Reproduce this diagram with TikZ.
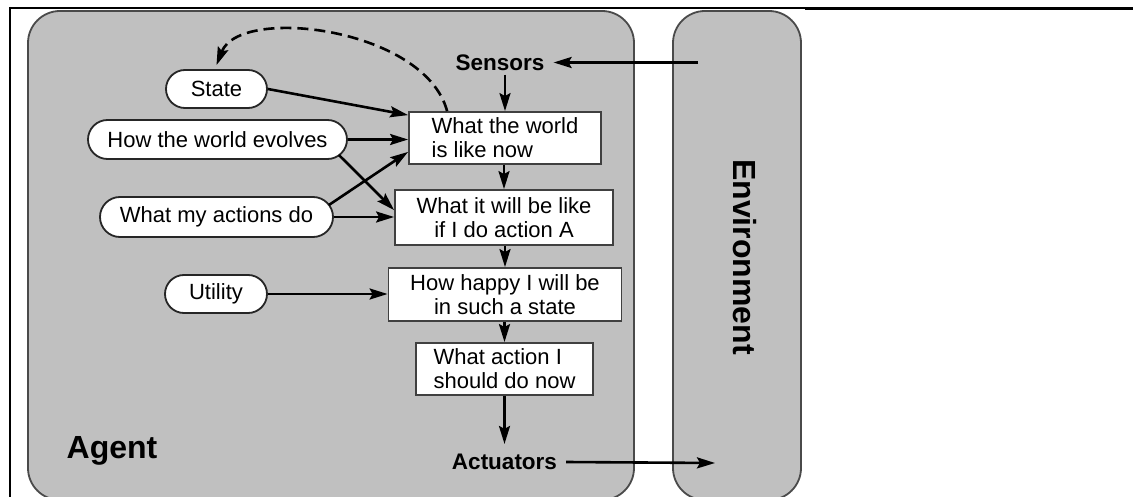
\documentclass[tikz,border=0pt]{standalone}
\usepackage{fontspec}
\setmainfont{Liberation Sans}
\usetikzlibrary{arrows.meta,shapes.misc,calc}
\definecolor{panelgray}{HTML}{C0C0C0}
\definecolor{edgegray}{HTML}{4A4A4A}
\tikzset{
  panel/.style={draw=edgegray, line width=1.8pt, fill=panelgray, rounded corners=32pt},
  pill/.style={shape=rounded rectangle, draw=black!85, line width=1.8pt, fill=white,
    inner sep=0pt, font=\fontsize{22}{24}\selectfont},
  procbox/.style={draw=black!75, line width=1.8pt, fill=white, inner sep=0pt,
    font=\fontsize{22}{24}\selectfont},
  lbl/.style={font=\bfseries\fontsize{22.5}{24}\selectfont, inner xsep=9pt, inner ysep=4pt},
  biglbl/.style={font=\bfseries\fontsize{32}{36}\selectfont, inner sep=0pt},
  arr/.style={line width=2.6pt, -{Stealth[length=18pt,width=11pt,inset=3pt]}},
  dasharr/.style={arr, dash pattern=on 11pt off 6pt},
}
\begin{document}
\begin{tikzpicture}[x=1pt,y=-1pt]
\useasboundingbox (0,0) rectangle (1133,497);
\begin{scope}
\clip (0,0) rectangle (1133,497);
% frame
\draw[line width=1.5pt] (9,8) -- (1133,8);
\draw[line width=3pt] (805,8.5) -- (1133,8.5);
\draw[line width=2.6pt] (10,7) -- (10,497);
% panels
\path[panel] (28,11) rectangle (634,500);
\path[panel] (673,11) rectangle (801,500);

% left ovals
\node[pill, minimum width=101pt, minimum height=38pt] (state) at (216.5,89) {State};
\node[pill, minimum width=259pt, minimum height=39pt] (evolves) at (217.5,139.5) {How the world evolves};
\node[pill, minimum width=233pt, minimum height=40pt] (actions) at (216.5,217) {What my actions do};
\node[pill, minimum width=102pt, minimum height=38pt] (utility) at (216,294) {Utility};

% column of boxes
\node[lbl] (sensors) at (500,62.5) {Sensors};
\node[procbox, minimum width=192pt, minimum height=52pt, align=left] (b1) at (505,138) {What the world\\is like now};
\node[procbox, minimum width=218pt, minimum height=55pt, align=center] (b2) at (504,217.5) {What it will be like\\if I do action A};
\node[procbox, minimum width=233pt, minimum height=53pt, align=center] (b3) at (505,294.5) {How happy I will be\\in such a state};
\node[procbox, minimum width=177pt, minimum height=52pt, align=left] (b4) at (504.5,369) {What action I\\should do now};
\node[lbl, inner ysep=10pt] (actuators) at (504.5,462) {Actuators};

\node[biglbl] (agent) at (112,451) {Agent};
\node[biglbl, rotate=-90] (env) at (745,257) {Environment};

\coordinate (envin) at (698,62.5);
\coordinate (envout) at (715,463);

% connectors
\draw[arr] (envin) -- (sensors.east);
\draw[arr] (sensors.south -| b1.north) -- (b1.north);
\draw[arr] (b1.south -| b2.north) -- (b2.north);
\draw[arr] (b2.south -| b3.north) -- (b3.north);
\draw[arr] (b3.south -| b4.north) -- (b4.north);
\draw[arr] (b4.south) -- (actuators.north);
\draw[arr] (actuators.east) -- (envout);

\draw[arr] (state.east) -- ($(b1.north west)+(0,4)$);
\draw[arr] (evolves.east) -- (evolves.east -| b1.west);
\draw[arr] ($(evolves.east)+(-9,15.5)$) -- ($(b2.north west)+(0,21)$);
\draw[arr] ($(actions.east)+(-5,-12)$) -- ($(b1.south west)+(0,-13)$);
\draw[arr] (actions.east) -- (actions.east -| b2.west);
\draw[arr] (utility.east) -- (utility.east -| b3.west);

\draw[dasharr] ($(b1.north west)+(39,0)$) .. controls (425,28) and (240,5) .. ($(state.north)+(0,-4)$);
\end{scope}
\end{tikzpicture}
\end{document}
